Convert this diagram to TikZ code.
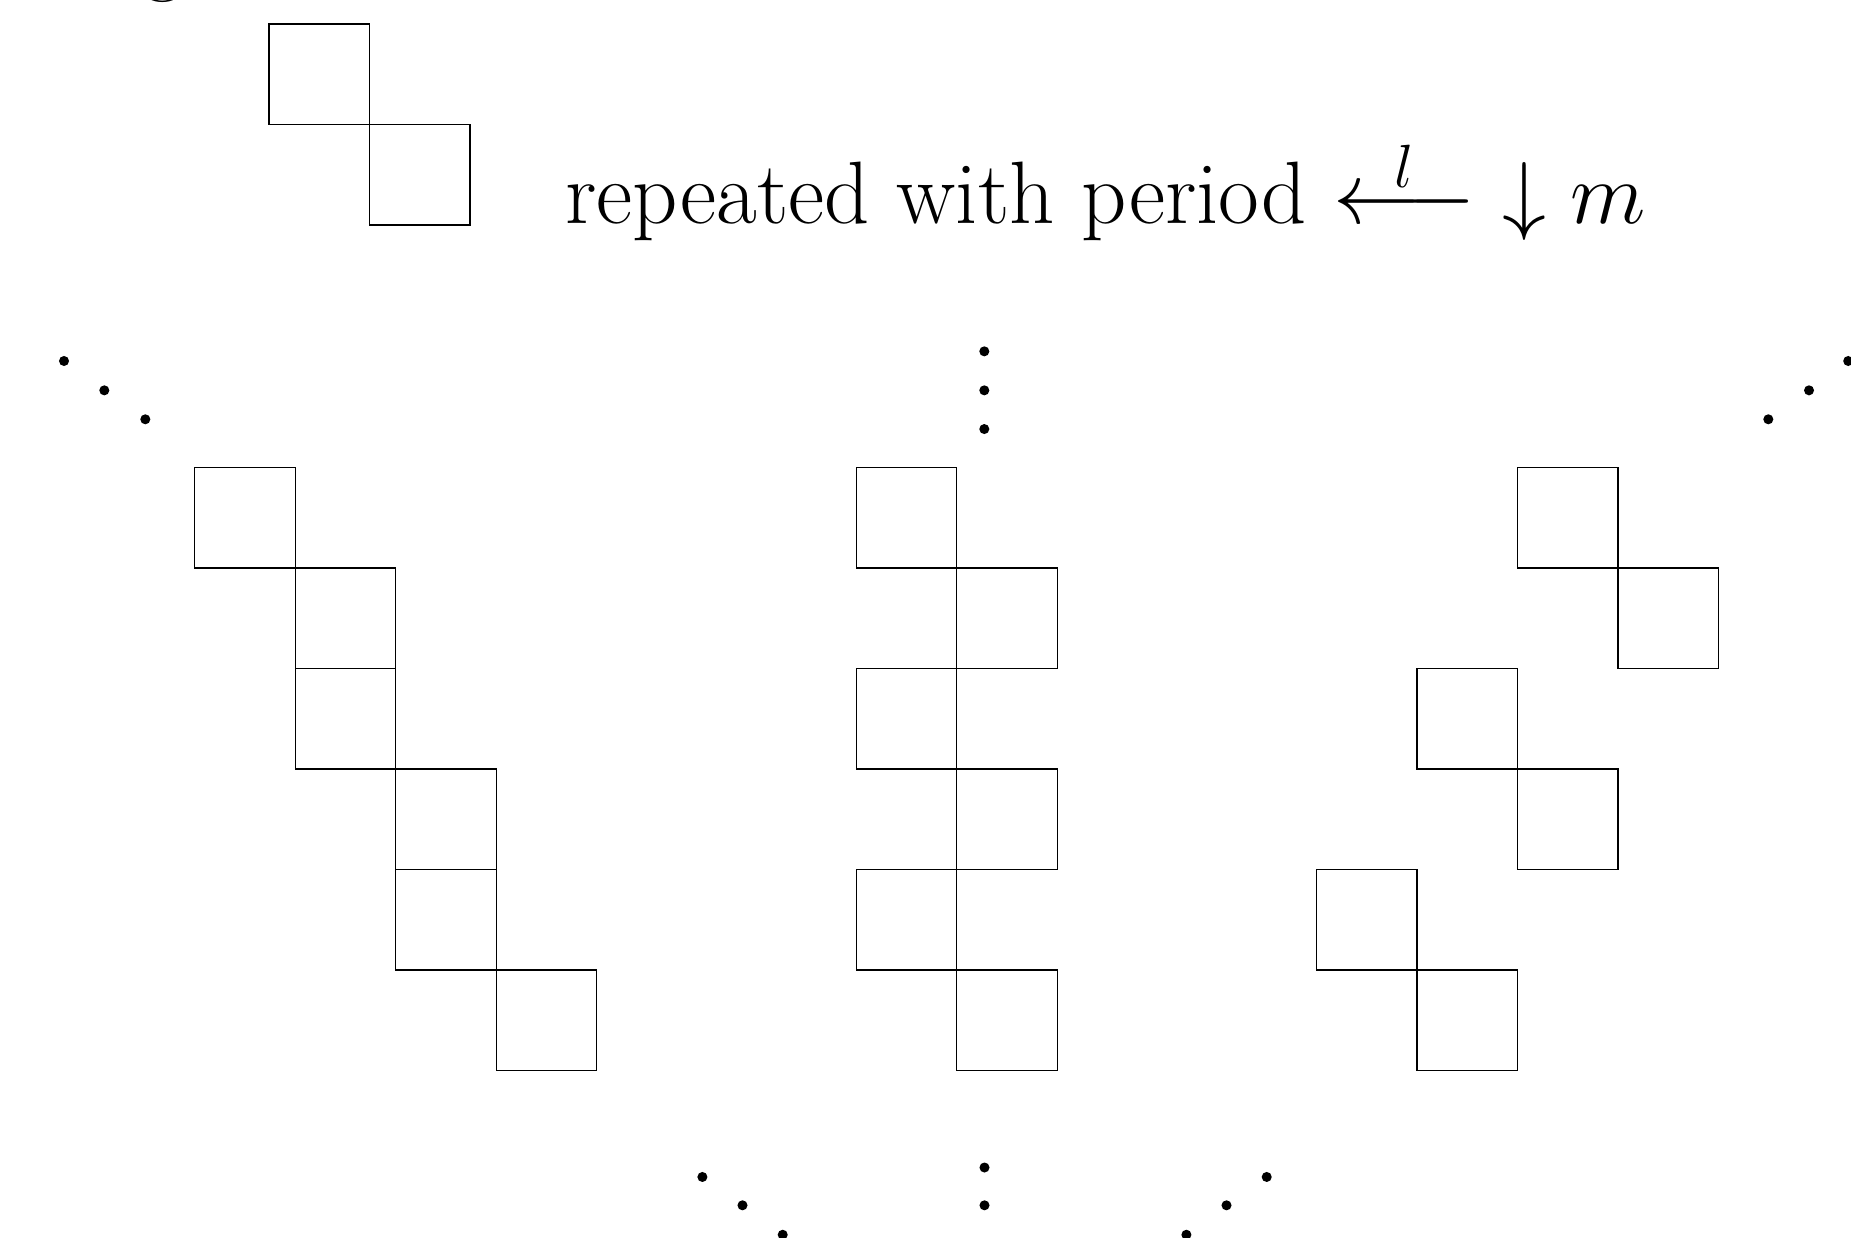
\documentclass[tikz,border=0pt]{standalone}
\usepackage{amsmath}
\begin{document}
\begin{tikzpicture}[x=1cm,y=1cm,
    cell/.style={draw=black,line width=0.4pt},
    dot/.style={fill=black},
    label/.style={inner sep=0pt,font=\fontsize{25.1}{30}\selectfont}]
  \useasboundingbox (0,0) rectangle (18.418,-12.318);

  % tail of a heading letter cut off above the frame
  \node[label,anchor=base] (head) at (1.62,0.15) {g};

  % the basic two-cell motif
  \foreach \x/\y in {2.677/0.24, 3.677/1.24}
    \draw[cell] (\x,-\y) rectangle ++(1,-1);

  \node[label,anchor=base west] (caption) at (5.62,-2.225)
    {repeated with period
     $\stackrel{\smash{\raisebox{-4pt}{$\scriptstyle l$}}}{\longleftarrow}$
     $\downarrow m$};

  % left column: staircase
  \foreach \x/\y in {1.938/4.65, 2.938/5.65, 2.938/6.65, 3.938/7.65, 3.938/8.65, 4.938/9.65}
    \draw[cell] (\x,-\y) rectangle ++(1,-1);

  % middle column: zig-zag
  \foreach \x/\y in {8.52/4.65, 9.52/5.65, 8.52/6.65, 9.52/7.65, 8.52/8.65, 9.52/9.65}
    \draw[cell] (\x,-\y) rectangle ++(1,-1);

  % right column: shifted pairs
  \foreach \x/\y in {15.10/4.65, 16.10/5.65, 14.10/6.65, 15.10/7.65, 13.10/8.65, 14.10/9.65}
    \draw[cell] (\x,-\y) rectangle ++(1,-1);

  % continuation dots above
  \foreach \x/\y in {0.637/3.592, 1.038/3.884, 1.446/4.172}
    \fill[dot] (\x,-\y) circle (0.05);
  \foreach \x/\y in {9.794/3.496, 9.794/3.884, 9.794/4.269}
    \fill[dot] (\x,-\y) circle (0.05);
  \foreach \x/\y in {17.595/4.172, 18.0/3.884, 18.39/3.592}
    \fill[dot] (\x,-\y) circle (0.05);

  % continuation dots below
  \foreach \x/\y in {6.989/11.711, 7.388/11.993, 7.788/12.286}
    \fill[dot] (\x,-\y) circle (0.05);
  \foreach \x/\y in {9.796/11.617, 9.796/11.993, 9.796/12.37}
    \fill[dot] (\x,-\y) circle (0.05);
  \foreach \x/\y in {12.604/11.711, 12.204/11.993, 11.805/12.286}
    \fill[dot] (\x,-\y) circle (0.05);
\end{tikzpicture}
\end{document}
